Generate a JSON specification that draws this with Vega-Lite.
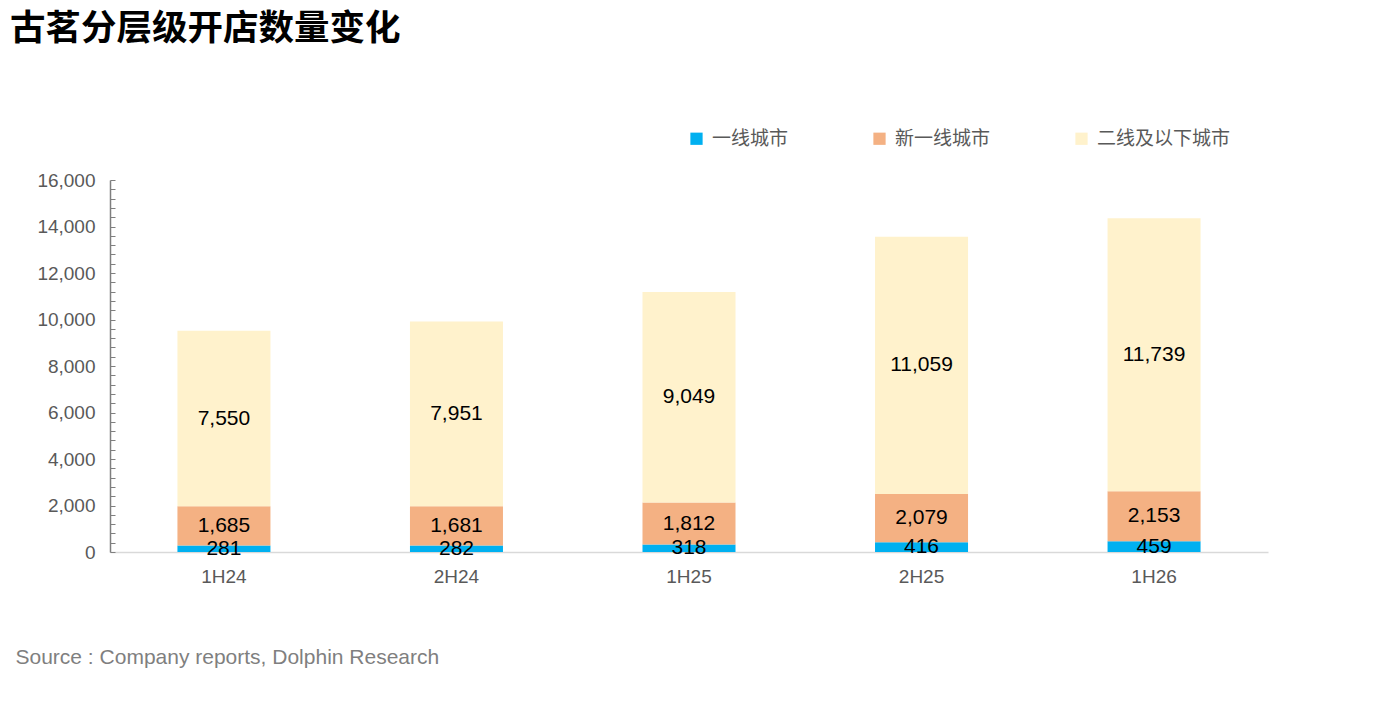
{
  "$schema": "https://vega.github.io/schema/vega-lite/v6.json",
  "width": 1158,
  "height": 372,
  "autosize": {"type": "none"},
  "padding": {"left": 110, "top": 180, "right": 107, "bottom": 163},
  "background": "white",
  "title": {
    "text": "古茗分层级开店数量变化",
    "anchor": "start",
    "frame": "group",
    "font": "Noto Sans CJK SC",
    "fontSize": 35.5,
    "fontWeight": "bold",
    "color": "#000000",
    "dx": -100,
    "dy": -78
  },
  "config": {
    "view": {"stroke": null},
    "font": "Liberation Sans"
  },
  "data": {
    "values": [
      {"period": "1H24", "tier": "一线城市", "rank": 1, "value": 281},
      {"period": "1H24", "tier": "新一线城市", "rank": 2, "value": 1685},
      {"period": "1H24", "tier": "二线及以下城市", "rank": 3, "value": 7550},
      {"period": "2H24", "tier": "一线城市", "rank": 1, "value": 282},
      {"period": "2H24", "tier": "新一线城市", "rank": 2, "value": 1681},
      {"period": "2H24", "tier": "二线及以下城市", "rank": 3, "value": 7951},
      {"period": "1H25", "tier": "一线城市", "rank": 1, "value": 318},
      {"period": "1H25", "tier": "新一线城市", "rank": 2, "value": 1812},
      {"period": "1H25", "tier": "二线及以下城市", "rank": 3, "value": 9049},
      {"period": "2H25", "tier": "一线城市", "rank": 1, "value": 416},
      {"period": "2H25", "tier": "新一线城市", "rank": 2, "value": 2079},
      {"period": "2H25", "tier": "二线及以下城市", "rank": 3, "value": 11059},
      {"period": "1H26", "tier": "一线城市", "rank": 1, "value": 459},
      {"period": "1H26", "tier": "新一线城市", "rank": 2, "value": 2153},
      {"period": "1H26", "tier": "二线及以下城市", "rank": 3, "value": 11739}
    ]
  },
  "encoding": {
    "x": {
      "field": "period",
      "type": "nominal",
      "sort": ["1H24", "2H24", "1H25", "2H25", "1H26"],
      "scale": {"paddingInner": 0.6, "paddingOuter": 0.29},
      "axis": {
        "title": "Source : Company reports, Dolphin Research",
        "titleFont": "Liberation Sans",
        "titleFontSize": 21,
        "titleFontWeight": "normal",
        "titleColor": "#7f7f7f",
        "titleAnchor": "start",
        "titleAlign": "left",
        "titleBaseline": "middle",
        "titleX": -95,
        "titleY": 105,
        "labelAngle": 0,
        "labelFontSize": 19,
        "labelColor": "#595959",
        "labelPadding": 15,
        "ticks": false,
        "domainColor": "#d9d9d9",
        "domainWidth": 1.5
      }
    }
  },
  "layer": [
    {
      "mark": {"type": "bar"},
      "encoding": {
        "y": {
          "field": "value",
          "type": "quantitative",
          "aggregate": "sum",
          "stack": "zero",
          "scale": {"domain": [0, 16000], "nice": false},
          "axis": {
            "title": null,
            "values": [0, 400, 800, 1200, 1600, 2000, 2400, 2800, 3200, 3600, 4000, 4400, 4800, 5200, 5600, 6000, 6400, 6800, 7200, 7600, 8000, 8400, 8800, 9200, 9600, 10000, 10400, 10800, 11200, 11600, 12000, 12400, 12800, 13200, 13600, 14000, 14400, 14800, 15200, 15600, 16000],
            "tickCount": 60,
            "labelExpr": "datum.value % 2000 === 0 ? format(datum.value, ',') : ''",
            "labelOverlap": false,
            "labelBound": false,
            "labelFlush": false,
            "labelFontSize": 19,
            "labelColor": "#595959",
            "labelPadding": 20,
            "tickSize": -5,
            "tickColor": "#7f7f7f",
            "domainColor": "#7f7f7f",
            "domainWidth": 1.5,
            "grid": false
          }
        },
        "color": {
          "field": "tier",
          "type": "nominal",
          "scale": {
            "domain": ["一线城市", "新一线城市", "二线及以下城市"],
            "range": ["#00b0f0", "#f4b183", "#fff2cc"]
          },
          "legend": {
            "title": null,
            "orient": "none",
            "direction": "horizontal",
            "legendX": 577,
            "legendY": -51,
            "symbolType": "square",
            "symbolSize": 150,
            "symbolStrokeWidth": 0,
            "labelFont": "Noto Sans CJK SC",
            "labelFontSize": 19,
            "labelColor": "#595959",
            "labelOffset": 6,
            "columnPadding": 81
          }
        },
        "order": {"field": "rank", "type": "quantitative"}
      }
    },
    {
      "transform": [
        {"stack": "value", "groupby": ["period"], "sort": [{"field": "rank"}], "as": ["v0", "v1"]},
        {"calculate": "(datum.v0 + datum.v1) / 2", "as": "mid"}
      ],
      "mark": {"type": "text", "fontSize": 21, "color": "#000000", "font": "Liberation Sans", "baseline": "middle"},
      "encoding": {
        "y": {"field": "mid", "type": "quantitative"},
        "text": {"field": "value", "type": "quantitative", "format": ","}
      }
    }
  ]
}
